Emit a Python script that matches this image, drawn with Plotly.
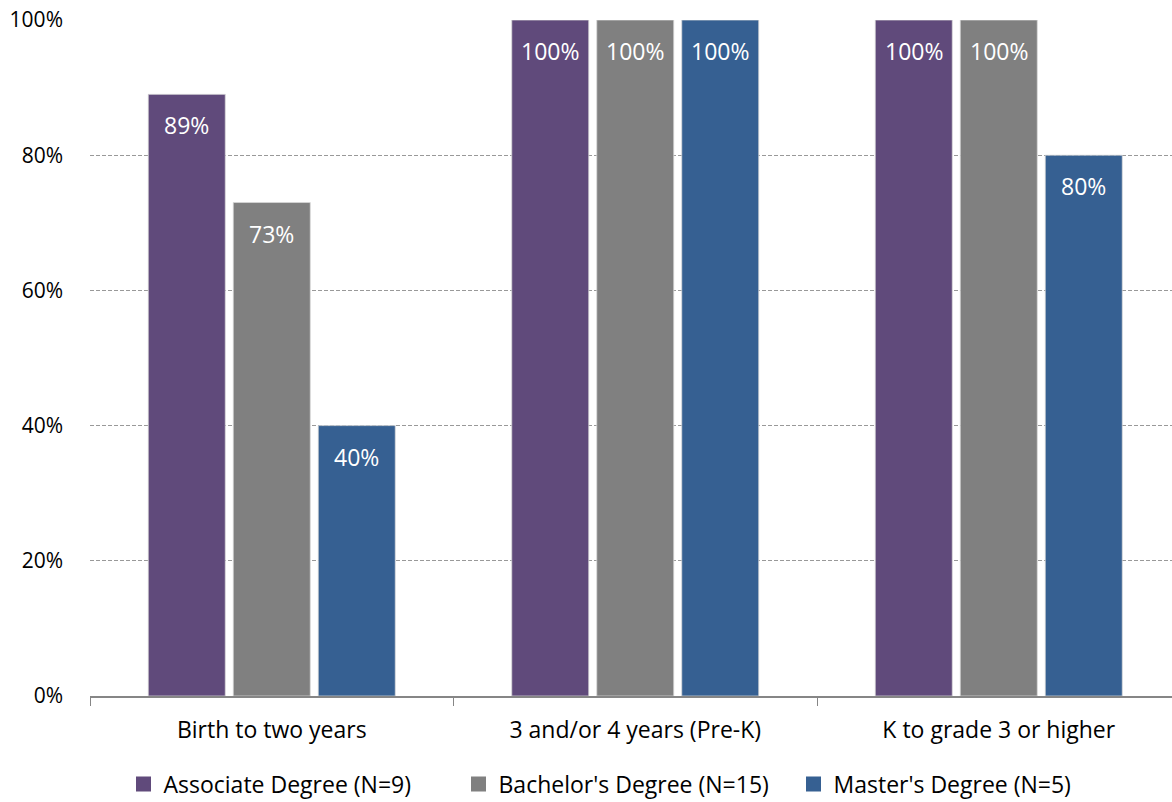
import plotly.graph_objects as go

categories = ["Birth to two years", "3 and/or 4 years (Pre-K)", "K to grade 3 or higher"]
series_names = ["Associate Degree (N=9)", "Bachelor's Degree (N=15)", "Master's Degree (N=5)"]
associate = [0.89, 1.00, 1.00]
bachelor = [0.73, 1.00, 1.00]
master = [0.40, 1.00, 0.80]
colors = ["#604A7B", "#808080", "#366092"]
y_ticks = [0, 0.2, 0.4, 0.6, 0.8, 1.0]
y_tick_labels = ["0%", "20%", "40%", "60%", "80%", "100%"]

W, H = 1172, 802
AX_FONT = "Open Sans"
LBL_FONT = "Open Sans"

fig = go.Figure()
all_series = [associate, bachelor, master]
for name, vals, col in zip(series_names, all_series, colors):
    fig.add_trace(go.Bar(
        x=categories, y=vals, name=name, showlegend=False,
        marker=dict(color=col, line=dict(color="#D9D9D9", width=0.75)),
    ))
# legend entries with square swatches
for name, col in zip(series_names, colors):
    fig.add_trace(go.Scatter(
        x=[None], y=[None], mode="markers", name=name,
        marker=dict(symbol="square", size=15, color=col),
    ))

# data labels inside the top of the bars
slot = 85
for i, vals in enumerate(all_series):
    for c, v in zip(categories, vals):
        fig.add_annotation(
            x=c, y=v, xref="x", yref="y",
            text=f"{round(v*100)}%", showarrow=False,
            yanchor="top", yshift=-13, xshift=(i - 1) * slot,
            font=dict(family=LBL_FONT, size=23, color="white"),
        )

fig.update_layout(
    width=W, height=H,
    margin=dict(l=90, r=0, t=20, b=106),
    paper_bgcolor="white", plot_bgcolor="white",
    barmode="group", bargap=0.2985, bargroupgap=0.094,
    font=dict(family=AX_FONT, size=23, color="#000000"),
    showlegend=True,
    legend=dict(
        orientation="h", xref="container", yref="container",
        x=626 / W, xanchor="center", y=1 - 784 / H, yanchor="middle",
        font=dict(family=AX_FONT, size=23, color="#000000"),
        itemwidth=30, traceorder="normal",
        entrywidth=290, entrywidthmode="pixels",
        tracegroupgap=0,
    ),
    xaxis=dict(
        type="category", range=[-0.5, 2.4766],
        showgrid=False, showline=True, linecolor="#868686", linewidth=1.5,
        ticks="outside", tickson="boundaries", ticklen=8, tickcolor="#868686",
        ticklabelstandoff=13,
        tickfont=dict(family=AX_FONT, size=23, color="#000000"),
        fixedrange=True,
    ),
    yaxis=dict(
        range=[0, 1], tickvals=y_ticks, ticktext=y_tick_labels,
        showgrid=True, gridcolor="#999999", griddash="4px,2px", gridwidth=1,
        zeroline=False, showline=False, ticks="",
        ticklabelstandoff=26,
        tickfont=dict(family=AX_FONT, size=21, color="#000000"),
    ),
)

fig.write_html("out.html")
